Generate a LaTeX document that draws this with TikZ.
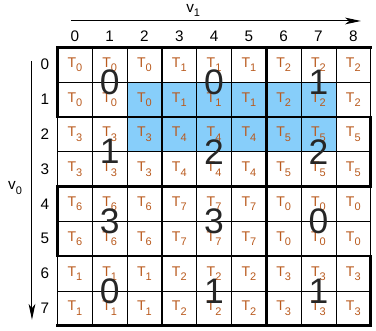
\documentclass[tikz,border=0pt]{standalone}
\usepackage{fontspec}
\setmainfont{Liberation Sans}
\usetikzlibrary{arrows.meta}
\definecolor{tilecol}{RGB}{185,90,30}
\definecolor{hlblue}{RGB}{135,206,250}
\newcommand{\tsub}[2]{#1\raisebox{-0.6ex}{\fontsize{9}{10}\selectfont #2}}

\begin{document}
\begin{tikzpicture}[x=1cm,y=-1cm,>={Stealth[length=13pt,width=5.5pt,inset=3.5pt]},
  thin grid/.style={line width=0.6pt},
  block line/.style={line width=2pt,line cap=rect},
  tile/.style={font=\fontsize{11.5}{13}\selectfont,text=tilecol,inner sep=0pt},
  idx/.style={font=\fontsize{12.5}{14}\selectfont,inner sep=0pt},
  warp/.style={font=\fontsize{29}{29}\selectfont,text=black!85,inner sep=0pt}]

\useasboundingbox (-1.652,-1.359) rectangle (9.153,8.152);

% highlighted region
\fill[hlblue] (2,1) rectangle (8,3);

% cell grid
\foreach \c in {0,...,9}
  \draw[thin grid] (\c,0) -- (\c,8);
\foreach \r in {0,...,8}
  \draw[thin grid] (0,\r) -- (9,\r);

% tiles
\foreach \r in {0,...,7}
  \foreach \c in {0,...,8}{
    \pgfmathtruncatemacro{\t}{mod(3*floor(\r/2)+floor(\c/3),8)}
    \node[tile] (t-\r-\c) at (\c+0.5,\r+0.5) {\tsub{T}{\t}};
  }

% block borders
\foreach \r in {0,2,4,6,8}
  \draw[block line] (0,\r) -- (9,\r);
\draw[block line] (3,0) -- (3,8);
\draw[block line] (6,0) -- (6,8);
\draw[block line] (0,0) -- (0,2);
\draw[block line] (0,4) -- (0,6);
\draw[block line] (9,2) -- (9,4);
\draw[block line] (9,6) -- (9,8);

% indices
\foreach \c in {0,...,8}
  \node[idx] (c\c) at (\c+0.5,-0.325) {\c};
\foreach \r in {0,...,7}
  \node[idx] (r\r) at (-0.36,\r+0.5) {\r};

% axes
\coordinate (v1s) at (0.388,-0.756);
\coordinate (v1e) at (8.72,-0.756);
\coordinate (v0s) at (-0.733,0.394);
\coordinate (v0e) at (-0.733,7.83);
\draw[->,line width=0.8pt] (v1s) -- (v1e);
\draw[->,line width=0.8pt] (v0s) -- (v0e);
\node[idx] (v1) at (3.9,-1.06) {\tsub{v}{1}};
\node[idx] (v0) at (-1.22,4.05) {\tsub{v}{0}};

% warps
\foreach \br/\bc/\w in {0/0/0,0/1/0,0/2/1,1/0/1,1/1/2,1/2/2,2/0/3,2/1/3,2/2/0,3/0/0,3/1/1,3/2/1}
  \node[warp] (w-\br-\bc) at (3*\bc+1.5,2*\br+1) {\w};

\end{tikzpicture}
\end{document}
